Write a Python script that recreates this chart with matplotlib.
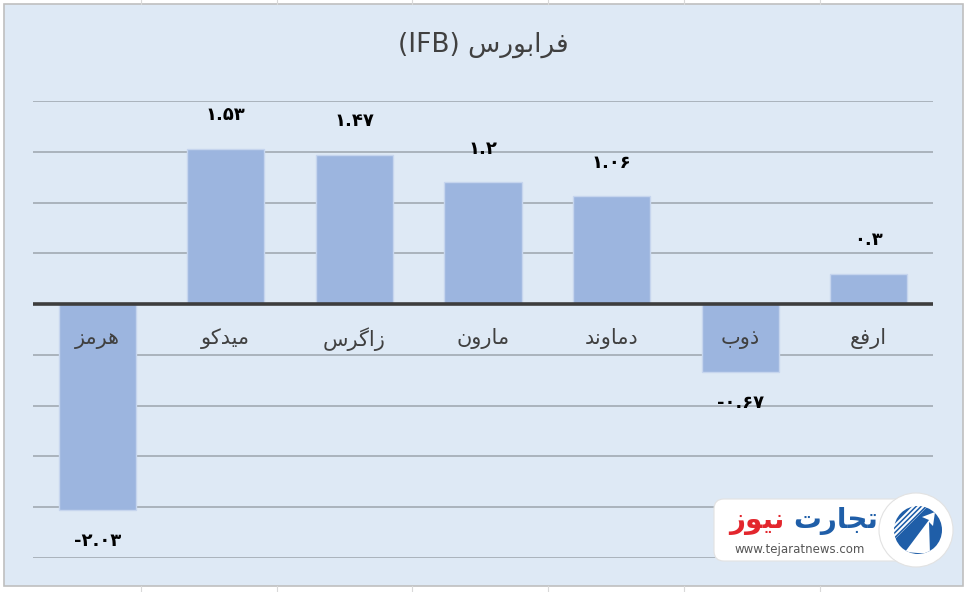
import numpy as np
import matplotlib
matplotlib.use('Agg')
import matplotlib.pyplot as plt
from matplotlib.patches import FancyBboxPatch, Rectangle, Circle, Polygon

# data (left to right as drawn)
categories = ['هرمز', 'میدکو', 'زاگرس', 'مارون', 'دماوند', 'ذوب', 'ارفع']
values = [-2.03, 1.53, 1.47, 1.2, 1.06, -0.67, 0.3]
title_fa = 'فرابورس'
title_en = '(IFB)'
y_ticks = [-2.5, -2.0, -1.5, -1.0, -0.5, 0.0, 0.5, 1.0, 1.5, 2.0]

# tiny arabic shaper: (isolated, final, initial, medial)
FORMS = {
    'ا': ('\uFE8D', '\uFE8E', None, None),
    'ب': ('\uFE8F', '\uFE90', '\uFE91', '\uFE92'),
    'ت': ('\uFE95', '\uFE96', '\uFE97', '\uFE98'),
    'ج': ('\uFE9D', '\uFE9E', '\uFE9F', '\uFEA0'),
    'د': ('\uFEA9', '\uFEAA', None, None),
    'ذ': ('\uFEAB', '\uFEAC', None, None),
    'ر': ('\uFEAD', '\uFEAE', None, None),
    'ز': ('\uFEAF', '\uFEB0', None, None),
    'س': ('\uFEB1', '\uFEB2', '\uFEB3', '\uFEB4'),
    'ع': ('\uFEC9', '\uFECA', '\uFECB', '\uFECC'),
    'ف': ('\uFED1', '\uFED2', '\uFED3', '\uFED4'),
    'ل': ('\uFEDD', '\uFEDE', '\uFEDF', '\uFEE0'),
    'م': ('\uFEE1', '\uFEE2', '\uFEE3', '\uFEE4'),
    'ن': ('\uFEE5', '\uFEE6', '\uFEE7', '\uFEE8'),
    'ه': ('\uFEE9', '\uFEEA', '\uFEEB', '\uFEEC'),
    'و': ('\uFEED', '\uFEEE', None, None),
    'ی': ('\uFBFC', '\uFBFD', '\uFBFE', '\uFBFF'),
    'ک': ('\uFB8E', '\uFB8F', '\uFB90', '\uFB91'),
    'گ': ('\uFB92', '\uFB93', '\uFB94', '\uFB95'),
}


def shape(word):
    out = []
    n = len(word)
    for i, ch in enumerate(word):
        if ch not in FORMS:
            out.append(ch)
            continue
        prev = word[i - 1] if i > 0 else None
        nxt = word[i + 1] if i < n - 1 else None
        join_prev = prev in FORMS and FORMS[prev][2] is not None
        join_next = nxt in FORMS and FORMS[ch][2] is not None
        iso, fin, ini, med = FORMS[ch]
        if join_prev and join_next:
            out.append(med)
        elif join_prev:
            out.append(fin)
        elif join_next:
            out.append(ini)
        else:
            out.append(iso)
    return ''.join(reversed(out))


def fa_num(v):
    s = '{:g}'.format(v)
    return s.translate(str.maketrans('0123456789', '۰۱۲۳۴۵۶۷۸۹'))


W, H = 967, 592
fig = plt.figure(figsize=(W / 100, H / 100), dpi=100)
fig.patch.set_facecolor('white')

# background panel (chart area)
bg = fig.add_axes([0, 0, 1, 1], zorder=0)
bg.set_xlim(0, W)
bg.set_ylim(H, 0)
bg.axis('off')
for xx in [141, 277, 412, 548, 684, 820]:
    bg.plot([xx, xx], [0, 4], color='#d9d9d9', lw=0.8)
    bg.plot([xx, xx], [586, H], color='#d9d9d9', lw=0.8)
bg.add_patch(Rectangle((4, 4), 959, 582, facecolor='#dee9f5', edgecolor='#bfbfbf', lw=1.2))
bg.text(483, 45, title_en + ' ' + shape(title_fa), ha='center', va='center',
        fontsize=19, color='#404040', family='DejaVu Sans')

# main chart
ax = fig.add_axes([33 / W, (H - 558) / H, 900 / W, (558 - 101) / H], zorder=1)
ax.patch.set_alpha(0)
x = np.arange(len(categories))
ax.set_xlim(-0.5, len(categories) - 0.5)
ax.set_ylim(-2.5, 2.0)
for t in y_ticks:
    if t != 0:
        ax.axhline(t, color='#aab3bc', lw=1.4, zorder=1)
ax.bar(x, values, width=0.6, color='#9cb5df', edgecolor='#c6d5ee', lw=1, zorder=2)
ax.axhline(0, color='#3d3d3d', lw=2.6, zorder=3)

for xi, v, c in zip(x, values, categories):
    ax.text(xi, -0.34, shape(c), ha='center', va='center', fontsize=15,
            color='#404040', zorder=4)
    if v >= 0:
        ax.text(xi, v + 0.33, fa_num(v), ha='center', va='center', fontsize=13,
                fontweight='bold', color='black', zorder=4)
    else:
        ax.text(xi, v - 0.30, fa_num(v), ha='center', va='center', fontsize=13,
                fontweight='bold', color='black', zorder=4)

ax.set_xticks([])
ax.set_yticks([])
for s in ax.spines.values():
    s.set_visible(False)

# logo overlay
lg = fig.add_axes([0, 0, 1, 1], zorder=5)
lg.set_xlim(0, W)
lg.set_ylim(H, 0)
lg.axis('off')
lg.patch.set_alpha(0)
lg.add_patch(FancyBboxPatch((714, 499), 200, 62, boxstyle='round,pad=0,rounding_size=10',
                            facecolor='white', edgecolor='#e2e2e2', lw=0.8))
lg.add_patch(Circle((916, 530), 37, facecolor='white', edgecolor='#e2e2e2', lw=0.8))
lg.add_patch(Rectangle((895, 500), 25, 60, facecolor='white', edgecolor='none'))
blue = Circle((918, 530), 24, facecolor='#1f5ea8', edgecolor='none')
lg.add_patch(blue)
for k in range(6):
    off = -30 + k * 5
    ln, = lg.plot([880 + off, 960 + off], [530 + 40, 530 - 40], color='white', lw=1.4)
    ln.set_clip_path(Polygon([(893, 506), (928, 506), (893, 541)], closed=True,
                             transform=lg.transData))
arrow = Polygon([(905, 552), (929, 520), (922, 517), (935, 512), (933, 526),
                 (929, 522), (930, 554)], closed=True, facecolor='white', edgecolor='none')
lg.add_patch(arrow)
arrow.set_clip_path(blue)
lg.text(836, 521, shape('تجارت'), ha='center', va='center', fontsize=20,
        fontweight='bold', color='#1f5ea8')
lg.text(757, 521, shape('نیوز'), ha='center', va='center', fontsize=20,
        fontweight='bold', color='#e3262d')
lg.text(800, 550, 'www.tejaratnews.com', ha='center', va='center', fontsize=8.5,
        color='#555555')

fig.savefig('out.png', dpi=100)
